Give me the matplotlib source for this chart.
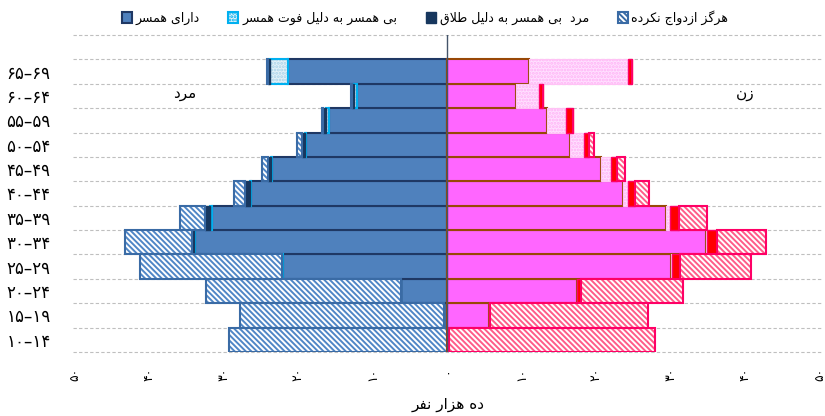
import matplotlib
matplotlib.use('Agg')
import matplotlib.pyplot as plt
from matplotlib.patches import Patch

# age groups, bottom to top
ages = ['10-14', '15-19', '20-24', '25-29', '30-34', '35-39',
        '40-44', '45-49', '50-54', '55-59', '60-64', '65-69']

# men (ten thousand persons)
male_married = [0.1, 0.5, 6.2, 22.0, 33.9, 31.6, 26.3, 23.5, 18.9, 15.9, 12.1, 21.3]
male_widowed = [0.0, 0.0, 0.0, 0.1, 0.1, 0.2, 0.1, 0.1, 0.15, 0.3, 0.4, 2.5]
male_divorced = [0.0, 0.0, 0.0, 0.1, 0.2, 0.7, 0.7, 0.5, 0.4, 0.5, 0.3, 0.2]
male_never = [29.2, 27.3, 26.1, 19.0, 9.0, 3.4, 1.5, 0.8, 0.7, 0.1, 0.1, 0.2]

# women
female_married = [0.2, 5.6, 17.4, 30.0, 34.7, 29.4, 23.6, 20.6, 16.5, 13.4, 9.2, 11.0]
female_widowed = [0.0, 0.0, 0.0, 0.1, 0.2, 0.5, 0.7, 1.3, 1.8, 2.5, 3.1, 13.3]
female_divorced = [0.0, 0.1, 0.5, 1.1, 1.3, 1.2, 0.9, 0.9, 0.7, 0.9, 0.6, 0.5]
female_never = [27.6, 21.2, 13.7, 9.5, 6.6, 3.8, 1.9, 1.0, 0.7, 0.0, 0.0, 0.0]

x_ticks = [-50, -40, -30, -20, -10, 0, 10, 20, 30, 40, 50]

legend_labels = ['دارای همسر', 'بی همسر به دلیل فوت همسر',
                 'مرد  بی همسر به دلیل طلاق', 'هرگز ازدواج نکرده']

FA_DIGITS = str.maketrans('0123456789-', '۰۱۲۳۴۵۶۷۸۹–')

# presentation forms: isolated, final, initial, medial (None = joins right only)
FORMS = {
    'ا': ('\uFE8D', '\uFE8E', None, None),
    'ب': ('\uFE8F', '\uFE90', '\uFE91', '\uFE92'),
    'ت': ('\uFE95', '\uFE96', '\uFE97', '\uFE98'),
    'ج': ('\uFE9D', '\uFE9E', '\uFE9F', '\uFEA0'),
    'د': ('\uFEA9', '\uFEAA', None, None),
    'ر': ('\uFEAD', '\uFEAE', None, None),
    'ز': ('\uFEAF', '\uFEB0', None, None),
    'س': ('\uFEB1', '\uFEB2', '\uFEB3', '\uFEB4'),
    'ط': ('\uFEC1', '\uFEC2', '\uFEC3', '\uFEC4'),
    'ف': ('\uFED1', '\uFED2', '\uFED3', '\uFED4'),
    'ق': ('\uFED5', '\uFED6', '\uFED7', '\uFED8'),
    'ل': ('\uFEDD', '\uFEDE', '\uFEDF', '\uFEE0'),
    'م': ('\uFEE1', '\uFEE2', '\uFEE3', '\uFEE4'),
    'ن': ('\uFEE5', '\uFEE6', '\uFEE7', '\uFEE8'),
    'ه': ('\uFEE9', '\uFEEA', '\uFEEB', '\uFEEC'),
    'و': ('\uFEED', '\uFEEE', None, None),
    'ی': ('\uFBFC', '\uFBFD', '\uFBFE', '\uFBFF'),
    'ک': ('\uFB8E', '\uFB8F', '\uFB90', '\uFB91'),
    'گ': ('\uFB92', '\uFB93', '\uFB94', '\uFB95'),
}


def shape(text):
    """Join Persian letters and put them in visual (left-to-right) order."""
    def dual(c):
        return c in FORMS and FORMS[c][2] is not None

    out = []
    i, n = 0, len(text)
    while i < n:
        c = text[i]
        if c not in FORMS:
            out.append(c)
            i += 1
            continue
        joins_prev = i > 0 and dual(text[i - 1])
        if c == 'ل' and i + 1 < n and text[i + 1] == 'ا':
            out.append('\uFEFC' if joins_prev else '\uFEFB')
            i += 2
            continue
        joins_next = dual(c) and i + 1 < n and text[i + 1] in FORMS
        iso, fin, ini, med = FORMS[c]
        if joins_prev and joins_next:
            out.append(med)
        elif joins_prev:
            out.append(fin)
        elif joins_next:
            out.append(ini)
        else:
            out.append(iso)
        i += 1
    return ''.join(reversed(out))


plt.rcParams['font.family'] = ['DejaVu Sans']
plt.rcParams['hatch.linewidth'] = 1.4

fig = plt.figure(figsize=(8.25, 4.16), dpi=100)
ax = fig.add_axes([73 / 825, 64 / 416, 750 / 825, 317 / 416])

y = list(range(len(ages)))

# styles: (face, hatch colour, hatch, outline, lw)
male_styles = [
    ('#4F81BD', None, None, '#1F3864', 1.5),
    ('#E3F1F8', '#A9D3EA', '.....', '#00B0F0', 1.5),
    ('#17375E', None, None, '#17375E', 1.0),
    ('white', '#4F86C6', '\\' * 6, '#3A6BA5', 1.5),
]
female_styles = [
    ('#FF66FF', None, None, '#984807', 1.5),
    ('#FFE0FF', '#FFB3F5', '.....', '#FFC2F5', 0.8),
    ('#FF0000', None, None, '#FF0066', 1.0),
    ('white', '#FF5C88', '\\' * 6, '#FF0066', 1.5),
]

male_series = [male_married, male_widowed, male_divorced, male_never]
female_series = [female_married, female_widowed, female_divorced, female_never]


def draw_stack(series, styles, sign):
    left = [0.0] * len(ages)
    for vals, (fc, hc, hatch, ec, lw) in zip(series, styles):
        widths = [sign * v for v in vals]
        if hatch:
            # fill + hatch first, then the outline on top
            ax.barh(y, widths, left=left, height=1.0, color=fc,
                    edgecolor=hc, hatch=hatch, linewidth=0, zorder=2)
            ax.barh(y, widths, left=left, height=1.0, fill=False,
                    edgecolor=ec, linewidth=lw, zorder=2)
        else:
            ax.barh(y, widths, left=left, height=1.0, color=fc,
                    edgecolor=ec, linewidth=lw, zorder=2)
        left = [l + w for l, w in zip(left, widths)]


draw_stack(male_series, male_styles, -1)
draw_stack(female_series, female_styles, 1)

# dashed horizontal grid between groups
for k in range(len(ages) + 2):
    ax.axhline(k - 0.5, color='#BFBFBF', linestyle=(0, (3, 2)), linewidth=0.8,
               zorder=1, clip_on=False)
ax.axvline(0, color='#44546A', linewidth=1.0, zorder=3)

ax.set_xlim(-50.2, 50.4)
ax.set_ylim(-0.5, len(ages) - 0.5 + 1)
ax.set_yticks(y)
ax.set_yticklabels([a.translate(FA_DIGITS) for a in ages], fontsize=12)
ax.set_xticks(x_ticks)
ax.set_xticklabels([str(abs(v)).translate(FA_DIGITS) for v in x_ticks],
                   rotation=90, fontsize=9)
ax.tick_params(length=0, pad=11)
ax.tick_params(axis='y', pad=16)
for s in ax.spines.values():
    s.set_visible(False)

ax.text(-35.2, 10.1, shape('مرد'), ha='center', va='center', fontsize=11)
ax.text(40.0, 10.1, shape('زن'), ha='center', va='center', fontsize=11)
ax.set_xlabel(shape('ده هزار نفر'), fontsize=11, labelpad=12)

handles = [Patch(facecolor=fc, edgecolor=ec, hatch=h, linewidth=lw)
           for fc, hc, h, ec, lw in male_styles]
fig.legend(handles, [shape(t) for t in legend_labels], loc='center',
           bbox_to_anchor=(0.515, 0.958), ncol=4, frameon=False, fontsize=9,
           handlelength=0.8, handleheight=0.9, handletextpad=0.3,
           columnspacing=2.3)

fig.savefig('out.png', dpi=100)
